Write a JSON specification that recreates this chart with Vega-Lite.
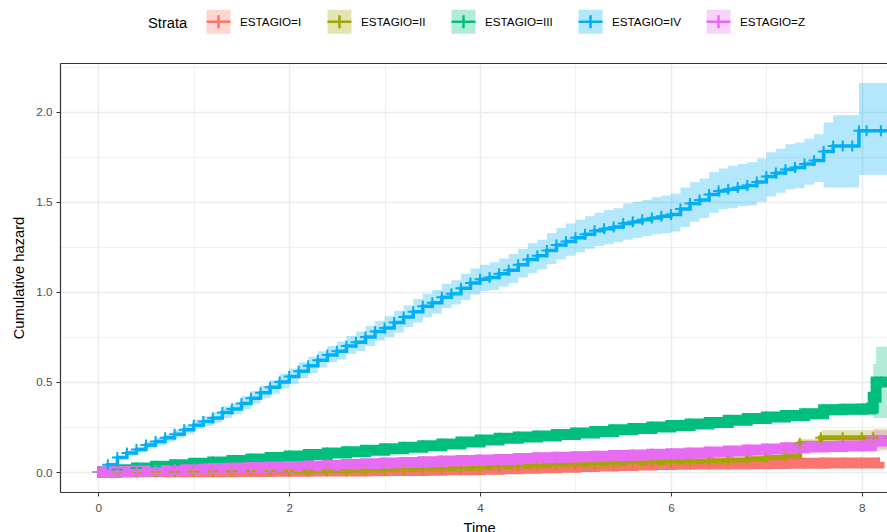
{
"$schema": "https://vega.github.io/schema/vega-lite/v6.json",
"width": 827, "height": 429,
"autosize": {"type": "none"},
"padding": {"left": 60, "top": 63, "right": 0, "bottom": 40},
"background": "white",
"config": {
  "view": {"stroke": null},
  "font": "Liberation Sans",
  "axis": {"labelFont": "Liberation Sans", "titleFont": "Liberation Sans", "labelFontSize": 11.7, "labelColor": "#4D4D4D", "titleFontSize": 14.7, "titleFontWeight": "normal", "titleColor": "#000000", "domainColor": "#333333", "tickColor": "#333333", "gridColor": "#EBEBEB", "domainWidth": 1.2}
},
"datasets": {"cum": [
{"s":"ESTAGIO=I","t":0,"h":0,"lo":0,"hi":0},
{"s":"ESTAGIO=I","t":0.2,"h":0,"lo":0,"hi":0.003},
{"s":"ESTAGIO=I","t":0.4,"h":0.001,"lo":0,"hi":0.004},
{"s":"ESTAGIO=I","t":0.6,"h":0.001,"lo":0,"hi":0.005},
{"s":"ESTAGIO=I","t":0.8,"h":0.002,"lo":0,"hi":0.006},
{"s":"ESTAGIO=I","t":1.0,"h":0.002,"lo":0,"hi":0.007},
{"s":"ESTAGIO=I","t":1.2,"h":0.002,"lo":0,"hi":0.007},
{"s":"ESTAGIO=I","t":1.4,"h":0.003,"lo":0,"hi":0.008},
{"s":"ESTAGIO=I","t":1.6,"h":0.003,"lo":0,"hi":0.009},
{"s":"ESTAGIO=I","t":1.8,"h":0.004,"lo":0,"hi":0.01},
{"s":"ESTAGIO=I","t":2.0,"h":0.004,"lo":0,"hi":0.01},
{"s":"ESTAGIO=I","t":2.2,"h":0.005,"lo":0.001,"hi":0.011},
{"s":"ESTAGIO=I","t":2.4,"h":0.005,"lo":0.001,"hi":0.012},
{"s":"ESTAGIO=I","t":2.6,"h":0.006,"lo":0.001,"hi":0.013},
{"s":"ESTAGIO=I","t":2.8,"h":0.007,"lo":0.002,"hi":0.014},
{"s":"ESTAGIO=I","t":3.0,"h":0.008,"lo":0.002,"hi":0.015},
{"s":"ESTAGIO=I","t":3.2,"h":0.009,"lo":0.003,"hi":0.017},
{"s":"ESTAGIO=I","t":3.4,"h":0.01,"lo":0.003,"hi":0.018},
{"s":"ESTAGIO=I","t":3.6,"h":0.012,"lo":0.004,"hi":0.02},
{"s":"ESTAGIO=I","t":3.8,"h":0.013,"lo":0.005,"hi":0.022},
{"s":"ESTAGIO=I","t":4.0,"h":0.015,"lo":0.006,"hi":0.025},
{"s":"ESTAGIO=I","t":4.2,"h":0.018,"lo":0.008,"hi":0.028},
{"s":"ESTAGIO=I","t":4.4,"h":0.021,"lo":0.01,"hi":0.032},
{"s":"ESTAGIO=I","t":4.6,"h":0.024,"lo":0.012,"hi":0.036},
{"s":"ESTAGIO=I","t":4.8,"h":0.027,"lo":0.014,"hi":0.04},
{"s":"ESTAGIO=I","t":5.0,"h":0.03,"lo":0.016,"hi":0.044},
{"s":"ESTAGIO=I","t":5.2,"h":0.033,"lo":0.018,"hi":0.048},
{"s":"ESTAGIO=I","t":5.4,"h":0.036,"lo":0.02,"hi":0.052},
{"s":"ESTAGIO=I","t":5.6,"h":0.039,"lo":0.022,"hi":0.056},
{"s":"ESTAGIO=I","t":5.8,"h":0.041,"lo":0.023,"hi":0.059},
{"s":"ESTAGIO=I","t":6.0,"h":0.043,"lo":0.024,"hi":0.062},
{"s":"ESTAGIO=I","t":6.2,"h":0.044,"lo":0.025,"hi":0.064},
{"s":"ESTAGIO=I","t":6.4,"h":0.045,"lo":0.025,"hi":0.065},
{"s":"ESTAGIO=I","t":6.6,"h":0.045,"lo":0.025,"hi":0.066},
{"s":"ESTAGIO=I","t":6.8,"h":0.046,"lo":0.026,"hi":0.067},
{"s":"ESTAGIO=I","t":7.0,"h":0.047,"lo":0.026,"hi":0.069},
{"s":"ESTAGIO=I","t":7.2,"h":0.048,"lo":0.027,"hi":0.07},
{"s":"ESTAGIO=I","t":7.4,"h":0.049,"lo":0.027,"hi":0.072},
{"s":"ESTAGIO=I","t":7.6,"h":0.05,"lo":0.027,"hi":0.074},
{"s":"ESTAGIO=I","t":7.8,"h":0.05,"lo":0.027,"hi":0.075},
{"s":"ESTAGIO=I","t":8.0,"h":0.05,"lo":0.026,"hi":0.076},
{"s":"ESTAGIO=I","t":8.18,"h":0.052,"lo":0.026,"hi":0.08},
{"s":"ESTAGIO=II","t":0,"h":0,"lo":0,"hi":0},
{"s":"ESTAGIO=II","t":0.2,"h":0,"lo":0,"hi":0.002},
{"s":"ESTAGIO=II","t":0.4,"h":0.001,"lo":0,"hi":0.003},
{"s":"ESTAGIO=II","t":0.6,"h":0.001,"lo":0,"hi":0.004},
{"s":"ESTAGIO=II","t":0.8,"h":0.002,"lo":0,"hi":0.005},
{"s":"ESTAGIO=II","t":1.0,"h":0.003,"lo":0,"hi":0.006},
{"s":"ESTAGIO=II","t":1.2,"h":0.003,"lo":0,"hi":0.007},
{"s":"ESTAGIO=II","t":1.4,"h":0.004,"lo":0.001,"hi":0.008},
{"s":"ESTAGIO=II","t":1.6,"h":0.005,"lo":0.001,"hi":0.009},
{"s":"ESTAGIO=II","t":1.8,"h":0.006,"lo":0.002,"hi":0.01},
{"s":"ESTAGIO=II","t":2.0,"h":0.007,"lo":0.002,"hi":0.012},
{"s":"ESTAGIO=II","t":2.2,"h":0.008,"lo":0.003,"hi":0.013},
{"s":"ESTAGIO=II","t":2.4,"h":0.009,"lo":0.003,"hi":0.015},
{"s":"ESTAGIO=II","t":2.6,"h":0.01,"lo":0.004,"hi":0.016},
{"s":"ESTAGIO=II","t":2.8,"h":0.011,"lo":0.004,"hi":0.018},
{"s":"ESTAGIO=II","t":3.0,"h":0.012,"lo":0.005,"hi":0.019},
{"s":"ESTAGIO=II","t":3.2,"h":0.014,"lo":0.006,"hi":0.022},
{"s":"ESTAGIO=II","t":3.4,"h":0.016,"lo":0.007,"hi":0.025},
{"s":"ESTAGIO=II","t":3.6,"h":0.018,"lo":0.008,"hi":0.028},
{"s":"ESTAGIO=II","t":3.8,"h":0.021,"lo":0.01,"hi":0.032},
{"s":"ESTAGIO=II","t":4.0,"h":0.025,"lo":0.013,"hi":0.037},
{"s":"ESTAGIO=II","t":4.2,"h":0.029,"lo":0.016,"hi":0.042},
{"s":"ESTAGIO=II","t":4.4,"h":0.033,"lo":0.019,"hi":0.047},
{"s":"ESTAGIO=II","t":4.6,"h":0.036,"lo":0.021,"hi":0.051},
{"s":"ESTAGIO=II","t":4.8,"h":0.039,"lo":0.023,"hi":0.055},
{"s":"ESTAGIO=II","t":5.0,"h":0.042,"lo":0.025,"hi":0.059},
{"s":"ESTAGIO=II","t":5.2,"h":0.045,"lo":0.027,"hi":0.063},
{"s":"ESTAGIO=II","t":5.4,"h":0.047,"lo":0.028,"hi":0.066},
{"s":"ESTAGIO=II","t":5.6,"h":0.05,"lo":0.03,"hi":0.07},
{"s":"ESTAGIO=II","t":5.8,"h":0.053,"lo":0.032,"hi":0.074},
{"s":"ESTAGIO=II","t":6.0,"h":0.056,"lo":0.034,"hi":0.078},
{"s":"ESTAGIO=II","t":6.2,"h":0.059,"lo":0.036,"hi":0.082},
{"s":"ESTAGIO=II","t":6.4,"h":0.062,"lo":0.038,"hi":0.086},
{"s":"ESTAGIO=II","t":6.6,"h":0.067,"lo":0.041,"hi":0.093},
{"s":"ESTAGIO=II","t":6.8,"h":0.073,"lo":0.045,"hi":0.1},
{"s":"ESTAGIO=II","t":7.0,"h":0.08,"lo":0.05,"hi":0.11},
{"s":"ESTAGIO=II","t":7.2,"h":0.09,"lo":0.057,"hi":0.123},
{"s":"ESTAGIO=II","t":7.35,"h":0.16,"lo":0.13,"hi":0.183},
{"s":"ESTAGIO=II","t":7.57,"h":0.19,"lo":0.15,"hi":0.232},
{"s":"ESTAGIO=II","t":7.8,"h":0.19,"lo":0.15,"hi":0.232},
{"s":"ESTAGIO=II","t":8.0,"h":0.19,"lo":0.15,"hi":0.232},
{"s":"ESTAGIO=II","t":8.12,"h":0.19,"lo":0.12,"hi":0.24},
{"s":"ESTAGIO=II","t":8.3,"h":0.19,"lo":0.12,"hi":0.24},
{"s":"ESTAGIO=III","t":0,"h":0,"lo":0,"hi":0},
{"s":"ESTAGIO=III","t":0.2,"h":0.012,"lo":0.005,"hi":0.019},
{"s":"ESTAGIO=III","t":0.4,"h":0.022,"lo":0.014,"hi":0.03},
{"s":"ESTAGIO=III","t":0.6,"h":0.032,"lo":0.024,"hi":0.04},
{"s":"ESTAGIO=III","t":0.8,"h":0.04,"lo":0.031,"hi":0.049},
{"s":"ESTAGIO=III","t":1.0,"h":0.048,"lo":0.039,"hi":0.057},
{"s":"ESTAGIO=III","t":1.2,"h":0.056,"lo":0.046,"hi":0.066},
{"s":"ESTAGIO=III","t":1.4,"h":0.064,"lo":0.054,"hi":0.074},
{"s":"ESTAGIO=III","t":1.6,"h":0.072,"lo":0.061,"hi":0.083},
{"s":"ESTAGIO=III","t":1.8,"h":0.08,"lo":0.069,"hi":0.091},
{"s":"ESTAGIO=III","t":2.0,"h":0.089,"lo":0.077,"hi":0.101},
{"s":"ESTAGIO=III","t":2.2,"h":0.097,"lo":0.084,"hi":0.11},
{"s":"ESTAGIO=III","t":2.4,"h":0.105,"lo":0.092,"hi":0.118},
{"s":"ESTAGIO=III","t":2.6,"h":0.113,"lo":0.099,"hi":0.127},
{"s":"ESTAGIO=III","t":2.8,"h":0.121,"lo":0.107,"hi":0.135},
{"s":"ESTAGIO=III","t":3.0,"h":0.129,"lo":0.114,"hi":0.144},
{"s":"ESTAGIO=III","t":3.2,"h":0.137,"lo":0.121,"hi":0.153},
{"s":"ESTAGIO=III","t":3.4,"h":0.146,"lo":0.13,"hi":0.162},
{"s":"ESTAGIO=III","t":3.6,"h":0.155,"lo":0.138,"hi":0.172},
{"s":"ESTAGIO=III","t":3.8,"h":0.166,"lo":0.149,"hi":0.183},
{"s":"ESTAGIO=III","t":4.0,"h":0.178,"lo":0.16,"hi":0.196},
{"s":"ESTAGIO=III","t":4.2,"h":0.188,"lo":0.169,"hi":0.207},
{"s":"ESTAGIO=III","t":4.4,"h":0.194,"lo":0.175,"hi":0.213},
{"s":"ESTAGIO=III","t":4.6,"h":0.2,"lo":0.18,"hi":0.22},
{"s":"ESTAGIO=III","t":4.8,"h":0.208,"lo":0.188,"hi":0.228},
{"s":"ESTAGIO=III","t":5.0,"h":0.216,"lo":0.195,"hi":0.237},
{"s":"ESTAGIO=III","t":5.2,"h":0.225,"lo":0.203,"hi":0.247},
{"s":"ESTAGIO=III","t":5.4,"h":0.234,"lo":0.212,"hi":0.256},
{"s":"ESTAGIO=III","t":5.6,"h":0.242,"lo":0.219,"hi":0.265},
{"s":"ESTAGIO=III","t":5.8,"h":0.25,"lo":0.226,"hi":0.274},
{"s":"ESTAGIO=III","t":6.0,"h":0.258,"lo":0.234,"hi":0.282},
{"s":"ESTAGIO=III","t":6.2,"h":0.266,"lo":0.241,"hi":0.291},
{"s":"ESTAGIO=III","t":6.4,"h":0.275,"lo":0.249,"hi":0.301},
{"s":"ESTAGIO=III","t":6.6,"h":0.288,"lo":0.261,"hi":0.315},
{"s":"ESTAGIO=III","t":6.8,"h":0.297,"lo":0.269,"hi":0.325},
{"s":"ESTAGIO=III","t":7.0,"h":0.305,"lo":0.276,"hi":0.334},
{"s":"ESTAGIO=III","t":7.2,"h":0.314,"lo":0.284,"hi":0.344},
{"s":"ESTAGIO=III","t":7.4,"h":0.323,"lo":0.292,"hi":0.354},
{"s":"ESTAGIO=III","t":7.6,"h":0.345,"lo":0.314,"hi":0.376},
{"s":"ESTAGIO=III","t":7.8,"h":0.348,"lo":0.316,"hi":0.38},
{"s":"ESTAGIO=III","t":8.0,"h":0.35,"lo":0.318,"hi":0.382},
{"s":"ESTAGIO=III","t":8.1,"h":0.355,"lo":0.32,"hi":0.39},
{"s":"ESTAGIO=III","t":8.12,"h":0.415,"lo":0.3,"hi":0.6},
{"s":"ESTAGIO=III","t":8.15,"h":0.5,"lo":0.3,"hi":0.695},
{"s":"ESTAGIO=III","t":8.2,"h":0.5,"lo":0.3,"hi":0.695},
{"s":"ESTAGIO=III","t":8.3,"h":0.5,"lo":0.3,"hi":0.695},
{"s":"ESTAGIO=IV","t":0,"h":0,"lo":0,"hi":0},
{"s":"ESTAGIO=IV","t":0.1,"h":0.04,"lo":0.03,"hi":0.05},
{"s":"ESTAGIO=IV","t":0.2,"h":0.08,"lo":0.07,"hi":0.09},
{"s":"ESTAGIO=IV","t":0.3,"h":0.105,"lo":0.09,"hi":0.12},
{"s":"ESTAGIO=IV","t":0.4,"h":0.125,"lo":0.11,"hi":0.14},
{"s":"ESTAGIO=IV","t":0.5,"h":0.15,"lo":0.13,"hi":0.17},
{"s":"ESTAGIO=IV","t":0.6,"h":0.17,"lo":0.15,"hi":0.19},
{"s":"ESTAGIO=IV","t":0.7,"h":0.19,"lo":0.17,"hi":0.21},
{"s":"ESTAGIO=IV","t":0.8,"h":0.21,"lo":0.19,"hi":0.235},
{"s":"ESTAGIO=IV","t":0.9,"h":0.235,"lo":0.21,"hi":0.26},
{"s":"ESTAGIO=IV","t":1.0,"h":0.26,"lo":0.24,"hi":0.29},
{"s":"ESTAGIO=IV","t":1.1,"h":0.28,"lo":0.255,"hi":0.31},
{"s":"ESTAGIO=IV","t":1.2,"h":0.3,"lo":0.275,"hi":0.33},
{"s":"ESTAGIO=IV","t":1.3,"h":0.33,"lo":0.3,"hi":0.365},
{"s":"ESTAGIO=IV","t":1.4,"h":0.35,"lo":0.32,"hi":0.385},
{"s":"ESTAGIO=IV","t":1.5,"h":0.38,"lo":0.35,"hi":0.42},
{"s":"ESTAGIO=IV","t":1.6,"h":0.41,"lo":0.38,"hi":0.45},
{"s":"ESTAGIO=IV","t":1.7,"h":0.44,"lo":0.41,"hi":0.48},
{"s":"ESTAGIO=IV","t":1.8,"h":0.47,"lo":0.435,"hi":0.51},
{"s":"ESTAGIO=IV","t":1.9,"h":0.5,"lo":0.465,"hi":0.545},
{"s":"ESTAGIO=IV","t":2.0,"h":0.53,"lo":0.49,"hi":0.575},
{"s":"ESTAGIO=IV","t":2.1,"h":0.56,"lo":0.52,"hi":0.61},
{"s":"ESTAGIO=IV","t":2.2,"h":0.59,"lo":0.55,"hi":0.64},
{"s":"ESTAGIO=IV","t":2.3,"h":0.62,"lo":0.58,"hi":0.67},
{"s":"ESTAGIO=IV","t":2.4,"h":0.65,"lo":0.61,"hi":0.7},
{"s":"ESTAGIO=IV","t":2.5,"h":0.67,"lo":0.625,"hi":0.725},
{"s":"ESTAGIO=IV","t":2.6,"h":0.7,"lo":0.655,"hi":0.755},
{"s":"ESTAGIO=IV","t":2.7,"h":0.72,"lo":0.67,"hi":0.78},
{"s":"ESTAGIO=IV","t":2.8,"h":0.75,"lo":0.7,"hi":0.81},
{"s":"ESTAGIO=IV","t":2.9,"h":0.78,"lo":0.73,"hi":0.84},
{"s":"ESTAGIO=IV","t":3.0,"h":0.8,"lo":0.75,"hi":0.865},
{"s":"ESTAGIO=IV","t":3.1,"h":0.83,"lo":0.775,"hi":0.895},
{"s":"ESTAGIO=IV","t":3.2,"h":0.86,"lo":0.805,"hi":0.925},
{"s":"ESTAGIO=IV","t":3.3,"h":0.89,"lo":0.83,"hi":0.96},
{"s":"ESTAGIO=IV","t":3.4,"h":0.92,"lo":0.86,"hi":0.99},
{"s":"ESTAGIO=IV","t":3.5,"h":0.94,"lo":0.88,"hi":1.01},
{"s":"ESTAGIO=IV","t":3.6,"h":0.97,"lo":0.91,"hi":1.045},
{"s":"ESTAGIO=IV","t":3.7,"h":0.99,"lo":0.93,"hi":1.065},
{"s":"ESTAGIO=IV","t":3.8,"h":1.02,"lo":0.955,"hi":1.1},
{"s":"ESTAGIO=IV","t":3.9,"h":1.05,"lo":0.985,"hi":1.13},
{"s":"ESTAGIO=IV","t":4.0,"h":1.07,"lo":1.005,"hi":1.15},
{"s":"ESTAGIO=IV","t":4.1,"h":1.08,"lo":1.01,"hi":1.165},
{"s":"ESTAGIO=IV","t":4.2,"h":1.1,"lo":1.03,"hi":1.185},
{"s":"ESTAGIO=IV","t":4.3,"h":1.12,"lo":1.05,"hi":1.21},
{"s":"ESTAGIO=IV","t":4.4,"h":1.15,"lo":1.08,"hi":1.24},
{"s":"ESTAGIO=IV","t":4.5,"h":1.18,"lo":1.105,"hi":1.27},
{"s":"ESTAGIO=IV","t":4.6,"h":1.2,"lo":1.125,"hi":1.29},
{"s":"ESTAGIO=IV","t":4.7,"h":1.23,"lo":1.155,"hi":1.325},
{"s":"ESTAGIO=IV","t":4.8,"h":1.26,"lo":1.18,"hi":1.355},
{"s":"ESTAGIO=IV","t":4.9,"h":1.28,"lo":1.2,"hi":1.38},
{"s":"ESTAGIO=IV","t":5.0,"h":1.3,"lo":1.22,"hi":1.4},
{"s":"ESTAGIO=IV","t":5.1,"h":1.32,"lo":1.24,"hi":1.42},
{"s":"ESTAGIO=IV","t":5.2,"h":1.34,"lo":1.255,"hi":1.44},
{"s":"ESTAGIO=IV","t":5.3,"h":1.35,"lo":1.265,"hi":1.455},
{"s":"ESTAGIO=IV","t":5.4,"h":1.36,"lo":1.275,"hi":1.465},
{"s":"ESTAGIO=IV","t":5.5,"h":1.38,"lo":1.29,"hi":1.49},
{"s":"ESTAGIO=IV","t":5.6,"h":1.39,"lo":1.3,"hi":1.5},
{"s":"ESTAGIO=IV","t":5.7,"h":1.4,"lo":1.31,"hi":1.51},
{"s":"ESTAGIO=IV","t":5.8,"h":1.41,"lo":1.32,"hi":1.525},
{"s":"ESTAGIO=IV","t":5.9,"h":1.42,"lo":1.325,"hi":1.535},
{"s":"ESTAGIO=IV","t":6.0,"h":1.43,"lo":1.335,"hi":1.545},
{"s":"ESTAGIO=IV","t":6.1,"h":1.46,"lo":1.36,"hi":1.58},
{"s":"ESTAGIO=IV","t":6.2,"h":1.49,"lo":1.39,"hi":1.61},
{"s":"ESTAGIO=IV","t":6.3,"h":1.51,"lo":1.41,"hi":1.63},
{"s":"ESTAGIO=IV","t":6.4,"h":1.54,"lo":1.44,"hi":1.665},
{"s":"ESTAGIO=IV","t":6.5,"h":1.56,"lo":1.46,"hi":1.685},
{"s":"ESTAGIO=IV","t":6.6,"h":1.57,"lo":1.465,"hi":1.7},
{"s":"ESTAGIO=IV","t":6.7,"h":1.58,"lo":1.475,"hi":1.71},
{"s":"ESTAGIO=IV","t":6.8,"h":1.59,"lo":1.48,"hi":1.72},
{"s":"ESTAGIO=IV","t":6.9,"h":1.61,"lo":1.5,"hi":1.74},
{"s":"ESTAGIO=IV","t":7.0,"h":1.64,"lo":1.53,"hi":1.775},
{"s":"ESTAGIO=IV","t":7.1,"h":1.66,"lo":1.55,"hi":1.795},
{"s":"ESTAGIO=IV","t":7.2,"h":1.68,"lo":1.57,"hi":1.82},
{"s":"ESTAGIO=IV","t":7.3,"h":1.69,"lo":1.575,"hi":1.83},
{"s":"ESTAGIO=IV","t":7.4,"h":1.71,"lo":1.595,"hi":1.85},
{"s":"ESTAGIO=IV","t":7.5,"h":1.73,"lo":1.61,"hi":1.875},
{"s":"ESTAGIO=IV","t":7.6,"h":1.78,"lo":1.58,"hi":1.94},
{"s":"ESTAGIO=IV","t":7.7,"h":1.81,"lo":1.58,"hi":1.98},
{"s":"ESTAGIO=IV","t":7.8,"h":1.81,"lo":1.58,"hi":1.98},
{"s":"ESTAGIO=IV","t":7.9,"h":1.81,"lo":1.58,"hi":1.98},
{"s":"ESTAGIO=IV","t":7.97,"h":1.895,"lo":1.65,"hi":2.16},
{"s":"ESTAGIO=IV","t":8.05,"h":1.895,"lo":1.65,"hi":2.16},
{"s":"ESTAGIO=IV","t":8.2,"h":1.895,"lo":1.65,"hi":2.16},
{"s":"ESTAGIO=IV","t":8.3,"h":1.895,"lo":1.65,"hi":2.16},
{"s":"ESTAGIO=Z","t":0,"h":0,"lo":0,"hi":0},
{"s":"ESTAGIO=Z","t":0.2,"h":0.003,"lo":0,"hi":0.007},
{"s":"ESTAGIO=Z","t":0.4,"h":0.006,"lo":0.001,"hi":0.011},
{"s":"ESTAGIO=Z","t":0.6,"h":0.009,"lo":0.004,"hi":0.014},
{"s":"ESTAGIO=Z","t":0.8,"h":0.012,"lo":0.006,"hi":0.018},
{"s":"ESTAGIO=Z","t":1.0,"h":0.016,"lo":0.01,"hi":0.022},
{"s":"ESTAGIO=Z","t":1.2,"h":0.019,"lo":0.013,"hi":0.025},
{"s":"ESTAGIO=Z","t":1.4,"h":0.022,"lo":0.015,"hi":0.029},
{"s":"ESTAGIO=Z","t":1.6,"h":0.025,"lo":0.018,"hi":0.032},
{"s":"ESTAGIO=Z","t":1.8,"h":0.028,"lo":0.02,"hi":0.036},
{"s":"ESTAGIO=Z","t":2.0,"h":0.031,"lo":0.023,"hi":0.039},
{"s":"ESTAGIO=Z","t":2.2,"h":0.034,"lo":0.026,"hi":0.042},
{"s":"ESTAGIO=Z","t":2.4,"h":0.038,"lo":0.029,"hi":0.047},
{"s":"ESTAGIO=Z","t":2.6,"h":0.042,"lo":0.033,"hi":0.051},
{"s":"ESTAGIO=Z","t":2.8,"h":0.046,"lo":0.036,"hi":0.056},
{"s":"ESTAGIO=Z","t":3.0,"h":0.05,"lo":0.04,"hi":0.06},
{"s":"ESTAGIO=Z","t":3.2,"h":0.053,"lo":0.043,"hi":0.063},
{"s":"ESTAGIO=Z","t":3.4,"h":0.057,"lo":0.046,"hi":0.068},
{"s":"ESTAGIO=Z","t":3.6,"h":0.061,"lo":0.05,"hi":0.072},
{"s":"ESTAGIO=Z","t":3.8,"h":0.064,"lo":0.052,"hi":0.076},
{"s":"ESTAGIO=Z","t":4.0,"h":0.067,"lo":0.055,"hi":0.079},
{"s":"ESTAGIO=Z","t":4.2,"h":0.069,"lo":0.057,"hi":0.081},
{"s":"ESTAGIO=Z","t":4.4,"h":0.075,"lo":0.062,"hi":0.088},
{"s":"ESTAGIO=Z","t":4.6,"h":0.079,"lo":0.066,"hi":0.092},
{"s":"ESTAGIO=Z","t":4.8,"h":0.082,"lo":0.068,"hi":0.096},
{"s":"ESTAGIO=Z","t":5.0,"h":0.085,"lo":0.071,"hi":0.099},
{"s":"ESTAGIO=Z","t":5.2,"h":0.088,"lo":0.074,"hi":0.102},
{"s":"ESTAGIO=Z","t":5.4,"h":0.091,"lo":0.076,"hi":0.106},
{"s":"ESTAGIO=Z","t":5.6,"h":0.094,"lo":0.079,"hi":0.109},
{"s":"ESTAGIO=Z","t":5.8,"h":0.098,"lo":0.082,"hi":0.114},
{"s":"ESTAGIO=Z","t":6.0,"h":0.102,"lo":0.086,"hi":0.118},
{"s":"ESTAGIO=Z","t":6.2,"h":0.106,"lo":0.09,"hi":0.122},
{"s":"ESTAGIO=Z","t":6.4,"h":0.111,"lo":0.094,"hi":0.128},
{"s":"ESTAGIO=Z","t":6.6,"h":0.116,"lo":0.098,"hi":0.134},
{"s":"ESTAGIO=Z","t":6.8,"h":0.122,"lo":0.104,"hi":0.14},
{"s":"ESTAGIO=Z","t":7.0,"h":0.128,"lo":0.109,"hi":0.147},
{"s":"ESTAGIO=Z","t":7.2,"h":0.134,"lo":0.114,"hi":0.154},
{"s":"ESTAGIO=Z","t":7.4,"h":0.139,"lo":0.118,"hi":0.16},
{"s":"ESTAGIO=Z","t":7.6,"h":0.142,"lo":0.12,"hi":0.164},
{"s":"ESTAGIO=Z","t":7.8,"h":0.144,"lo":0.121,"hi":0.167},
{"s":"ESTAGIO=Z","t":8.0,"h":0.146,"lo":0.122,"hi":0.17},
{"s":"ESTAGIO=Z","t":8.1,"h":0.172,"lo":0.13,"hi":0.23},
{"s":"ESTAGIO=Z","t":8.3,"h":0.172,"lo":0.13,"hi":0.23}
]},
"data": {"name": "cum"},
"layer": [
  {
    "mark": {"type": "area", "interpolate": "step-after", "fillOpacity": 0.3, "clip": true},
    "encoding": {
      "x": {"field": "t", "type": "quantitative",
        "scale": {"domain": [-0.401, 8.264], "nice": false, "zero": false},
        "axis": {"orient": "bottom", "title": "Time", "values": [0,1,2,3,4,5,6,7,8], "grid": true,
          "gridWidth": {"condition": {"test": "datum.value % 2 === 0", "value": 1.5}, "value": 0.8},
          "tickOpacity": {"condition": {"test": "datum.value % 2 === 0", "value": 1}, "value": 0},
          "labelExpr": "datum.value % 2 === 0 ? datum.label : ''",
          "tickSize": 4, "labelPadding": 6, "labelFlush": false, "labelOverlap": false, "titlePadding": 7, "titleX": 419}},
      "y": {"field": "lo", "type": "quantitative",
        "scale": {"domain": [-0.111, 2.2707], "nice": false, "zero": false},
        "axis": {"orient": "left", "title": "Cumulative hazard", "values": [0,0.25,0.5,0.75,1,1.25,1.5,1.75,2,2.25], "grid": true,
          "gridWidth": {"condition": {"test": "datum.value % 0.5 === 0", "value": 1.5}, "value": 0.8},
          "tickOpacity": {"condition": {"test": "datum.value % 0.5 === 0", "value": 1}, "value": 0},
          "labelExpr": "datum.value % 0.5 === 0 ? format(datum.value, '.1f') : ''",
          "tickSize": 4, "labelPadding": 4, "labelOverlap": false, "titlePadding": 9}},
      "y2": {"field": "hi"},
      "fill": {"field": "s", "type": "nominal",
        "scale": {"domain": ["ESTAGIO=I","ESTAGIO=II","ESTAGIO=III","ESTAGIO=IV","ESTAGIO=Z"], "range": ["#F8766D","#A3A500","#00BF7D","#00B0F6","#E76BF3"]},
        "legend": null}
    }
  },
  {
    "mark": {"type": "line", "interpolate": "step-after", "clip": true},
    "encoding": {
      "x": {"field": "t", "type": "quantitative",
        "axis": {"orient": "top", "labels": false, "ticks": false, "grid": false, "title": null, "domain": true, "domainColor": "#333333", "domainWidth": 1.2}},
      "y": {"field": "h", "type": "quantitative"},
      "stroke": {"field": "s", "type": "nominal",
        "scale": {"range": ["#F8766D","#A3A500","#00BF7D","#00B0F6","#E76BF3"]},
        "legend": {"title": "Strata", "orient": "none", "legendX": 88, "legendY": -55, "direction": "horizontal",
          "titleOrient": "left", "titleAnchor": "middle", "titleBaseline": "line-top", "titleLineHeight": 2, "titlePadding": 17,
          "titleFont": "Liberation Sans", "titleFontSize": 14.7, "titleFontWeight": "normal", "titleColor": "#000000",
          "labelFont": "Liberation Sans", "labelFontSize": 11.7, "labelColor": "#000000", "labelOffset": 8, "columnPadding": 20,
          "symbolType": "M-1,0H1V1H-1V-1H1V0M0,-0.55V0.55", "symbolSize": 576, "symbolStrokeWidth": 2.5, "symbolDash": [24, 96], "symbolOpacity": 1, "padding": 0,
          "encode": {"symbols": {"update": {"fill": {"scale": "fill", "field": "value"}, "fillOpacity": {"value": 0.3}, "strokeOpacity": {"value": 1}}}}}},
      "strokeWidth": {"field": "s", "type": "nominal",
        "scale": {"type": "ordinal", "domain": ["ESTAGIO=I","ESTAGIO=II","ESTAGIO=III","ESTAGIO=IV","ESTAGIO=Z"], "range": [11,5,11,3.5,11]}, "legend": null}
    }
  },
  {
    "mark": {"type": "point", "shape": "M-1,0H1M0,-1V1", "size": 121, "strokeWidth": 2, "filled": false, "opacity": 1, "clip": true},
    "encoding": {
      "x": {"field": "t", "type": "quantitative", "axis": null},
      "y": {"field": "h", "type": "quantitative"},
      "stroke": {"field": "s", "type": "nominal",
        "legend": {"title": "Strata", "orient": "none", "legendX": 88, "legendY": -55, "direction": "horizontal",
          "titleOrient": "left", "titleAnchor": "middle", "titleBaseline": "line-top", "titleLineHeight": 2, "titlePadding": 17,
          "titleFont": "Liberation Sans", "titleFontSize": 14.7, "titleFontWeight": "normal", "titleColor": "#000000",
          "labelFont": "Liberation Sans", "labelFontSize": 11.7, "labelColor": "#000000", "labelOffset": 8, "columnPadding": 20,
          "symbolType": "M-1,0H1V1H-1V-1H1V0M0,-0.55V0.55", "symbolSize": 576, "symbolStrokeWidth": 2.5, "symbolDash": [24, 96], "symbolOpacity": 1, "padding": 0,
          "encode": {"symbols": {"update": {"fill": {"scale": "fill", "field": "value"}, "fillOpacity": {"value": 0.3}, "strokeOpacity": {"value": 1}}}}}}
    }
  }
],
"resolve": {"axis": {"x": "independent"}}
}
